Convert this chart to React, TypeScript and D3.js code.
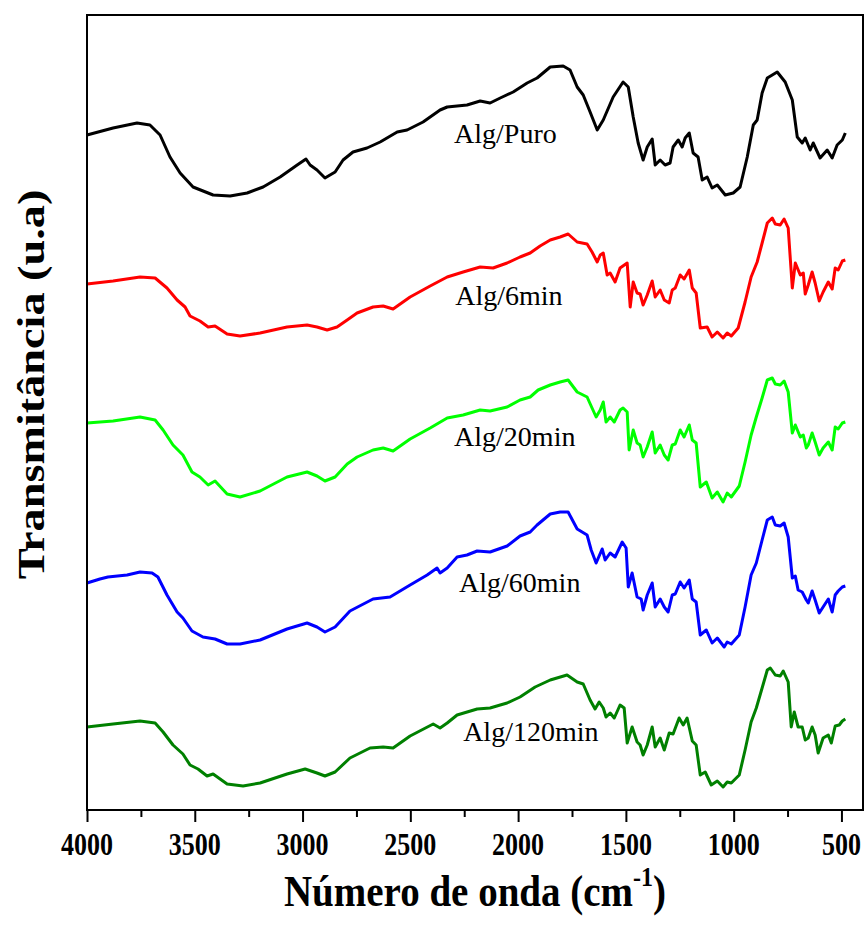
import React, { useEffect, useRef } from "react";
import * as d3 from "d3";

// FTIR spectra, stacked. x = wavenumber (cm-1), y = transmittance (u.a, offset per curve)
const puro: [number, number][] = [
  [4000, 675], [3879, 682], [3768, 687], [3708, 685], [3661, 675], [3615, 653], [3568, 637], [3508, 623],
  [3415, 615], [3336, 614], [3257, 617], [3183, 623], [3104, 633], [3025, 645], [2984, 651], [2965, 645],
  [2933, 640], [2896, 632], [2849, 638], [2812, 650], [2766, 658], [2701, 662], [2640, 668], [2561, 678],
  [2515, 680], [2441, 688], [2362, 700], [2329, 703], [2237, 705], [2176, 709], [2130, 707], [2083, 712],
  [2023, 718], [1958, 727], [1912, 732], [1851, 743], [1791, 744], [1759, 740], [1726, 723], [1698, 715],
  [1666, 698], [1633, 680], [1605, 690], [1559, 713], [1513, 728], [1489, 723], [1466, 693], [1443, 667],
  [1420, 650], [1401, 663], [1378, 671], [1364, 645], [1341, 650], [1318, 645], [1295, 647], [1281, 663],
  [1257, 670], [1239, 663], [1225, 672], [1206, 677], [1188, 657], [1165, 653], [1146, 630], [1123, 633],
  [1100, 622], [1076, 625], [1039, 615], [1002, 617], [970, 623], [937, 653], [909, 685], [891, 690],
  [868, 717], [844, 732], [798, 738], [761, 728], [728, 710], [705, 673], [682, 667], [668, 672],
  [645, 660], [631, 667], [599, 652], [566, 660], [543, 652], [520, 665], [496, 670], [482, 677],
];

const min6: [number, number][] = [
  [4000, 526], [3879, 529], [3754, 533], [3684, 532], [3629, 522], [3582, 510], [3545, 503], [3522, 494],
  [3476, 489], [3438, 483], [3406, 484], [3350, 476], [3290, 474], [3197, 477], [3072, 483], [2979, 485],
  [2933, 483], [2886, 480], [2840, 483], [2793, 490], [2747, 497], [2673, 503], [2626, 504], [2580, 501],
  [2501, 513], [2408, 524], [2329, 533], [2255, 538], [2176, 543], [2116, 542], [2051, 547], [1991, 553],
  [1944, 557], [1898, 564], [1851, 570], [1805, 573], [1768, 576], [1726, 568], [1680, 566], [1657, 558],
  [1633, 548], [1619, 555], [1605, 557], [1587, 535], [1573, 537], [1550, 528], [1527, 542], [1494, 547],
  [1480, 503], [1466, 528], [1448, 517], [1434, 516], [1420, 505], [1401, 515], [1378, 529], [1364, 513],
  [1341, 520], [1322, 510], [1299, 507], [1285, 520], [1271, 522], [1248, 535], [1230, 531], [1206, 540],
  [1192, 522], [1174, 517], [1155, 482], [1123, 483], [1100, 473], [1076, 478], [1049, 472], [1030, 477],
  [1011, 474], [979, 482], [947, 508], [919, 533], [891, 548], [868, 567], [844, 587], [821, 592],
  [807, 586], [784, 585], [766, 591], [747, 582], [728, 522], [714, 547], [691, 535], [677, 537],
  [668, 516], [654, 525], [636, 538], [622, 527], [603, 509], [585, 518], [561, 528], [543, 521],
  [529, 542], [515, 540], [496, 549], [482, 550],
];

const min20: [number, number][] = [
  [4000, 387], [3879, 389], [3754, 393], [3684, 390], [3647, 380], [3601, 365], [3555, 355], [3513, 338],
  [3476, 333], [3438, 325], [3406, 329], [3350, 316], [3290, 313], [3197, 319], [3072, 333], [2979, 338],
  [2933, 334], [2896, 329], [2849, 333], [2793, 346], [2747, 353], [2673, 360], [2626, 362], [2580, 359],
  [2501, 371], [2408, 382], [2329, 392], [2255, 395], [2176, 400], [2130, 399], [2051, 403], [1991, 410],
  [1944, 413], [1907, 420], [1851, 425], [1805, 428], [1768, 430], [1726, 418], [1680, 413], [1657, 402],
  [1638, 393], [1619, 400], [1605, 408], [1592, 388], [1573, 393], [1554, 388], [1527, 400], [1513, 402],
  [1494, 398], [1485, 360], [1466, 380], [1448, 367], [1434, 365], [1420, 353], [1401, 363], [1378, 378],
  [1364, 357], [1341, 365], [1322, 355], [1304, 350], [1285, 365], [1271, 366], [1248, 380], [1230, 373],
  [1206, 385], [1192, 370], [1174, 367], [1155, 323], [1127, 328], [1100, 312], [1076, 318], [1049, 308],
  [1030, 317], [1011, 313], [974, 324], [947, 348], [919, 375], [895, 393], [868, 412], [844, 430],
  [821, 432], [807, 426], [784, 425], [766, 429], [747, 418], [728, 377], [714, 385], [691, 373],
  [677, 375], [663, 362], [654, 365], [636, 377], [622, 368], [603, 355], [585, 362], [561, 368],
  [543, 360], [529, 383], [515, 381], [496, 387], [482, 388],
];

const min60: [number, number][] = [
  [4000, 227], [3940, 231], [3903, 233], [3814, 235], [3754, 238], [3698, 237], [3671, 233], [3629, 215],
  [3582, 198], [3555, 192], [3513, 179], [3462, 173], [3406, 171], [3350, 166], [3290, 166], [3197, 170],
  [3072, 181], [2979, 187], [2933, 183], [2896, 178], [2849, 183], [2780, 199], [2673, 211], [2594, 213],
  [2501, 225], [2422, 235], [2376, 242], [2362, 237], [2329, 242], [2283, 253], [2237, 255], [2190, 259],
  [2130, 258], [2051, 264], [1991, 274], [1944, 278], [1912, 285], [1851, 296], [1805, 298], [1768, 298],
  [1726, 281], [1680, 275], [1661, 260], [1638, 247], [1610, 261], [1596, 250], [1573, 257], [1550, 253],
  [1517, 268], [1499, 262], [1489, 223], [1471, 237], [1448, 213], [1429, 211], [1420, 200], [1401, 215],
  [1378, 227], [1364, 203], [1341, 211], [1322, 203], [1304, 198], [1285, 215], [1271, 216], [1248, 228],
  [1230, 222], [1206, 230], [1192, 211], [1174, 208], [1155, 175], [1127, 180], [1100, 167], [1076, 172],
  [1044, 163], [1030, 168], [1011, 166], [974, 175], [947, 203], [919, 235], [895, 247], [868, 270],
  [844, 290], [821, 293], [807, 285], [784, 284], [766, 287], [747, 273], [728, 232], [714, 234],
  [701, 220], [682, 218], [663, 210], [654, 207], [636, 219], [622, 210], [603, 197], [585, 203],
  [561, 211], [543, 198], [529, 215], [515, 219], [496, 223], [482, 224],
];

const min120: [number, number][] = [
  [4000, 83], [3879, 86], [3754, 89], [3684, 87], [3647, 78], [3601, 65], [3555, 56], [3522, 45],
  [3485, 41], [3443, 34], [3415, 36], [3350, 26], [3276, 24], [3197, 27], [3072, 36], [2988, 41],
  [2933, 37], [2896, 34], [2849, 38], [2780, 52], [2687, 62], [2626, 63], [2580, 62], [2501, 74],
  [2394, 86], [2362, 82], [2329, 87], [2283, 95], [2190, 101], [2130, 102], [2083, 105], [2051, 107],
  [1991, 113], [1921, 123], [1851, 130], [1773, 135], [1726, 128], [1698, 126], [1666, 110], [1643, 101],
  [1624, 108], [1605, 102], [1592, 93], [1573, 97], [1554, 92], [1527, 105], [1508, 102], [1494, 67],
  [1471, 83], [1448, 68], [1434, 65], [1420, 55], [1401, 65], [1378, 83], [1364, 63], [1341, 72],
  [1322, 60], [1299, 77], [1281, 76], [1253, 92], [1234, 85], [1216, 92], [1192, 69], [1174, 65],
  [1155, 35], [1132, 38], [1104, 25], [1076, 29], [1049, 23], [1030, 28], [1011, 27], [974, 35],
  [947, 60], [919, 88], [895, 102], [868, 122], [844, 140], [830, 142], [807, 135], [784, 134],
  [770, 139], [747, 128], [733, 83], [719, 98], [701, 83], [682, 83], [668, 70], [654, 72],
  [636, 83], [622, 75], [608, 57], [585, 72], [561, 75], [547, 67], [529, 84], [510, 85],
  [496, 89], [482, 91],
];

const seriesNames = ["Alg/Puro", "Alg/6min", "Alg/20min", "Alg/60min", "Alg/120min"];
const seriesData = [puro, min6, min20, min60, min120];
const seriesColors = ["#000000", "#ff0000", "#00ff00", "#0000ff", "#008000"];
// label anchor per curve: [wavenumber, u.a]
const labelPos: [number, number][] = [[2297, 667], [2292, 505], [2297, 364], [2274, 218], [2255, 69]];

const majorTicks = [4000, 3500, 3000, 2500, 2000, 1500, 1000, 500];
const minorTicks = [3750, 3250, 2750, 2250, 1750, 1250, 750];

const margin = { top: 15, right: 5, bottom: 124, left: 87 };
const W = 868, H = 934;
const width = W - margin.left - margin.right;
const height = H - margin.top - margin.bottom;
const font = "'Times New Roman', 'Liberation Serif', Times, serif";

function App() {
  const ref = useRef<SVGSVGElement>(null);

  useEffect(() => {
    const svg = d3.select(ref.current);
    svg.selectAll("*").remove();

    const x = d3.scaleLinear().domain([4000, 400]).range([0, width]);
    const y = d3.scaleLinear().domain([0, 795]).range([height, 0]);

    const g = svg.append("g").attr("transform", `translate(${margin.left},${margin.top})`);

    const line = d3.line<[number, number]>()
      .x(d => x(d[0]))
      .y(d => y(d[1]));

    seriesData.forEach((data, i) => {
      g.append("path")
        .datum(data)
        .attr("fill", "none")
        .attr("stroke", seriesColors[i])
        .attr("stroke-width", 3)
        .attr("stroke-linejoin", "round")
        .attr("d", line);

      g.append("text")
        .attr("x", x(labelPos[i][0]))
        .attr("y", y(labelPos[i][1]))
        .attr("font-family", font)
        .attr("font-size", 28)
        .attr("fill", "#000")
        .text(seriesNames[i]);
    });

    // frame
    g.append("rect")
      .attr("width", width)
      .attr("height", height)
      .attr("fill", "none")
      .attr("stroke", "#000")
      .attr("stroke-width", 2);

    // minor ticks
    g.append("g")
      .attr("transform", `translate(0,${height})`)
      .call(d3.axisBottom(x).tickValues(minorTicks).tickSize(7).tickFormat(() => ""))
      .call(a => a.select(".domain").remove())
      .call(a => a.selectAll("line").attr("stroke-width", 2));

    // major ticks (labels drawn separately, stretched vertically like the original)
    const xAxis = g.append("g")
      .attr("transform", `translate(0,${height})`)
      .call(d3.axisBottom(x).tickValues(majorTicks).tickSize(12).tickFormat(() => ""));
    xAxis.select(".domain").remove();
    xAxis.selectAll("line").attr("stroke-width", 2);

    g.append("g")
      .selectAll("text")
      .data(majorTicks)
      .join("text")
      .attr("transform", d => `translate(${x(d)},${height + 45}) scale(1,1.25)`)
      .attr("text-anchor", "middle")
      .attr("font-family", font)
      .attr("font-size", 26)
      .attr("font-weight", "bold")
      .text(d => d3.format("d")(d));

    // x title
    const xt = svg.append("text")
      .attr("transform", `translate(${margin.left + width / 2},906) scale(1,1.15)`)
      .attr("text-anchor", "middle")
      .attr("font-family", font)
      .attr("font-size", 39)
      .attr("font-weight", "bold");
    xt.append("tspan").text("Número de onda (cm");
    xt.append("tspan").attr("font-size", 24).attr("dy", -17).text("-1");
    xt.append("tspan").attr("dy", 17).text(")");

    // y title
    svg.append("text")
      .attr("transform", `translate(44,${margin.top + height / 2 - 28}) rotate(-90) scale(1.25,1)`)
      .attr("text-anchor", "middle")
      .attr("font-family", font)
      .attr("font-size", 37)
      .attr("font-weight", "bold")
      .text("Transmitância (u.a)");
  }, []);

  return (
    <svg ref={ref} width={W} height={H}
      style={{ position: "absolute", left: 0, top: 0, background: "#fff" }} />
  );
}

export default App;
